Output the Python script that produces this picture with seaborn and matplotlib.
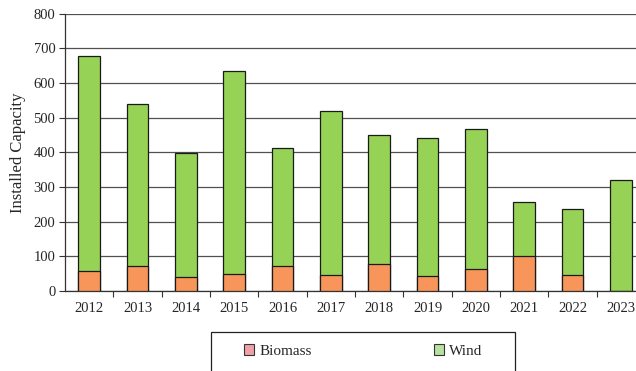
import matplotlib
matplotlib.use("Agg")
import matplotlib.pyplot as plt
from matplotlib.patches import Rectangle, Patch
from matplotlib.ticker import FixedLocator
import seaborn as sns
import pandas as pd

years = ["2012", "2013", "2014", "2015", "2016", "2017",
         "2018", "2019", "2020", "2021", "2022", "2023"]
biomass = [57, 73, 41, 48, 72, 47, 79, 43, 63, 102, 46, 0]
wind = [621, 465, 358, 586, 340, 473, 372, 399, 404, 155, 190, 319]

df = pd.DataFrame({"Year": years, "Biomass": biomass, "Wind": wind})
df["Total"] = df["Biomass"] + df["Wind"]

sns.set_style("white")
plt.rcParams["font.family"] = ["Liberation Serif", "DejaVu Serif"]

W, H = 636, 371
fig = plt.figure(figsize=(W / 100, H / 100), dpi=100)
ax = fig.add_axes([65 / W, 80 / H, 580 / W, 277.4 / H])

green = "#96d255"
orange = "#f7955a"

# stacked bars: full height in green, biomass share in orange on top
sns.barplot(data=df, x="Year", y="Total", color=green, width=0.45,
            edgecolor="#1a1a1a", linewidth=0.9, saturation=1, ax=ax, zorder=3)
sns.barplot(data=df, x="Year", y="Biomass", color=orange, width=0.45,
            edgecolor="#1a1a1a", linewidth=0.9, saturation=1, ax=ax, zorder=4)

ax.set_xlim(-0.5, 11.5)
ax.set_ylim(0, 800)
ax.set_yticks(range(0, 801, 100))
ax.yaxis.grid(True, color="#505050", linewidth=0.9, zorder=0)
ax.set_axisbelow(True)

for s in ["top", "right"]:
    ax.spines[s].set_visible(False)
for s in ["left", "bottom"]:
    ax.spines[s].set_color("#333333")
    ax.spines[s].set_linewidth(0.9)

ax.tick_params(axis="y", direction="out", length=4, width=0.8, color="#333333",
               labelsize=10.5, pad=3, left=True)
ax.tick_params(axis="x", which="major", length=0, labelsize=10.5, pad=8)
ax.xaxis.set_minor_locator(FixedLocator([i + 0.5 for i in range(11)]))
ax.tick_params(axis="x", which="minor", direction="out", length=4, width=0.8,
               color="#333333", bottom=True)

ax.set_xlabel("")
ax.set_ylabel("Installed Capacity", fontsize=12, labelpad=5)

# legend box at the bottom
fig.patches.append(Rectangle((211 / W, -0.05), (515 - 211) / W, (371 - 332) / H + 0.05,
                             transform=fig.transFigure, fill=False,
                             edgecolor="#222222", linewidth=0.9))
handles = [Patch(facecolor="#f2a0a8", edgecolor="#333333", linewidth=0.8, label="Biomass"),
           Patch(facecolor="#b8e0a0", edgecolor="#333333", linewidth=0.8, label="Wind")]
fig.legend(handles=handles, loc="center", bbox_to_anchor=(363 / W, (371 - 351) / H),
           ncol=2, frameon=False, fontsize=11, handlelength=0.7, handleheight=0.7,
           handletextpad=0.3, columnspacing=8.0)

fig.savefig("out.png", dpi=100)
